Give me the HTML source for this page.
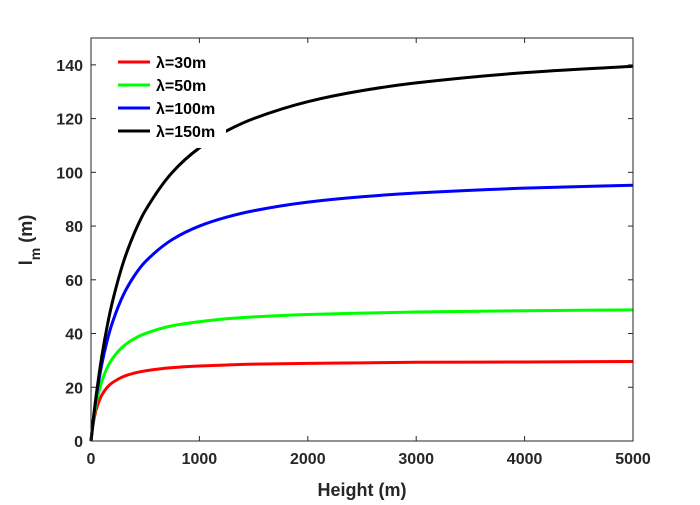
<!DOCTYPE html>
<html><head><meta charset="utf-8"><style>
body{margin:0;background:#fff}
svg text{font-family:"Liberation Sans",sans-serif;font-weight:bold}
</style></head><body>
<svg id="chart" width="700" height="500">
<g id="plot"></g>
</svg>
<script>
const heights=[0,10,25,50,100,150,200,300,400,500,750,1000,1250,1500,2000,2500,3000,4000,5000];
const s30=[0,3.5,7.5,12,17.1,20,21.8,24,25.3,26.1,27.3,27.9,28.3,28.6,28.9,29.1,29.3,29.4,29.6];
const s50=[0,3.7,8.3,14.3,22.2,27.3,30.8,35.3,38.1,40,42.9,44.4,45.5,46.2,47.1,47.6,48,48.5,48.8];
const s100=[0,3.8,9.1,16.7,28.6,37.5,44.4,54.5,61.5,66.7,75,80,83.3,85.7,88.9,90.9,92.3,94.1,95.2];
const s150=[0,3.9,9.4,17.6,31.6,42.9,52.2,66.7,77.4,85.7,100,109.1,115.4,120,126.3,130.4,133.3,137.1,139.5];
const seriesNames=["λ=30m","λ=50m","λ=100m","λ=150m"];
const seriesColors=["#ff0000","#00ff00","#0000ff","#000000"];
const xTicks=[0,1000,2000,3000,4000,5000];
const yTicks=[0,20,40,60,80,100,120,140];
const X0=91,X1=633,Y0=441,Y1=38,XMAX=5000,YMAX=150;
const sx=v=>X0+(X1-X0)*v/XMAX, sy=v=>Y0-(Y0-Y1)*v/YMAX;
const NS="http://www.w3.org/2000/svg", g=document.getElementById('plot');
function mk(t,a){const e=document.createElementNS(NS,t);for(const k in a)e.setAttribute(k,a[k]);g.appendChild(e);return e;}
function monoPath(xs,ys){
 const n=xs.length,d=[],m=[];
 for(let i=0;i<n-1;i++)d.push((ys[i+1]-ys[i])/(xs[i+1]-xs[i]));
 m[0]=d[0];m[n-1]=d[n-2];
 for(let i=1;i<n-1;i++){m[i]=(d[i-1]*d[i]<=0)?0:2/(1/d[i-1]+1/d[i]);}
 let p='M'+xs[0]+','+ys[0];
 for(let i=0;i<n-1;i++){const h=xs[i+1]-xs[i];
  p+=' C'+(xs[i]+h/3)+','+(ys[i]+m[i]*h/3)+' '+(xs[i+1]-h/3)+','+(ys[i+1]-m[i+1]*h/3)+' '+xs[i+1]+','+ys[i+1];}
 return p;
}
const all=[s30,s50,s100,s150];
all.forEach((s,i)=>{
 const p=mk('path',{d:monoPath(heights.map(sx),s.map(sy)),fill:'none',stroke:seriesColors[i],'stroke-width':3});
 
 
});
const box=mk('rect',{x:X0,y:Y1,width:X1-X0,height:Y0-Y1,fill:'none',stroke:'#262626','stroke-width':1});


xTicks.forEach(v=>{
 mk('line',{x1:sx(v),x2:sx(v),y1:Y0,y2:Y0-5,stroke:'#262626'});
 mk('line',{x1:sx(v),x2:sx(v),y1:Y1,y2:Y1+5,stroke:'#262626'});
 const t=mk('text',{x:sx(v),y:Y0+23,'text-anchor':'middle','font-size':16,fill:'#262626'});t.textContent=v;
 
 
});
yTicks.forEach(v=>{
 mk('line',{x1:X0,x2:X0+5,y1:sy(v),y2:sy(v),stroke:'#262626'});
 mk('line',{x1:X1,x2:X1-5,y1:sy(v),y2:sy(v),stroke:'#262626'});
 const t=mk('text',{x:X0-8,y:sy(v)+6,'text-anchor':'end','font-size':16,fill:'#262626'});t.textContent=v;
 
 
});
const xl=mk('text',{x:362,y:496,'text-anchor':'middle','font-size':18,fill:'#262626'});xl.textContent='Height (m)';


const yl=mk('text',{transform:'translate(32,240) rotate(-90)','text-anchor':'middle','font-size':18,fill:'#262626'});
yl.innerHTML='l<tspan dy="8" font-size="14">m</tspan><tspan dy="-8"> (m)</tspan>';


const lb=mk('rect',{x:104,y:48,width:122,height:100,fill:'#fff'});


seriesNames.forEach((n,i)=>{
 const y=62+i*23;
 const l=mk('line',{x1:118,x2:150,y1:y,y2:y,stroke:seriesColors[i],'stroke-width':3});
 
 
 const t=mk('text',{x:156,y:y+6,'font-size':16,fill:'#000'});t.textContent=n;
 
 
});
</script>
</body></html>
